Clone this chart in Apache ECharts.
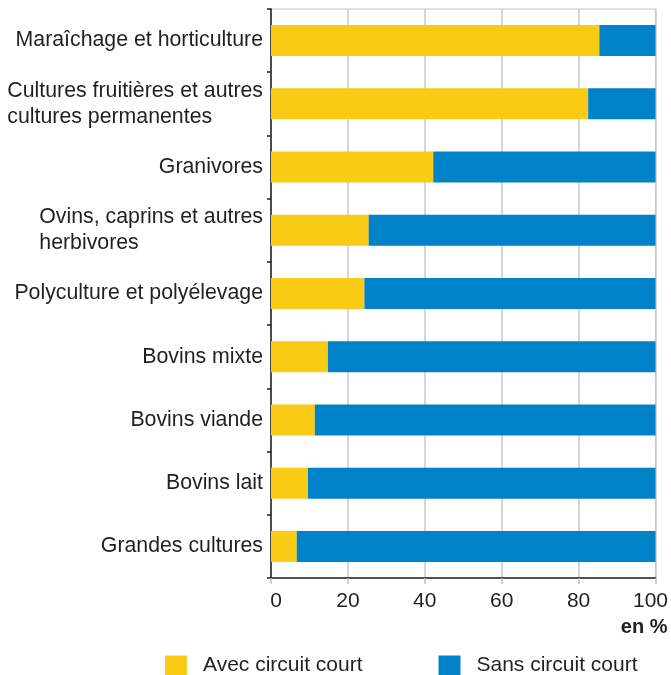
<!DOCTYPE html>
<html>
<head>
<meta charset="utf-8">
<script src="https://cdn.jsdelivr.net/npm/echarts@6/dist/echarts.min.js"></script>
<style>html,body{margin:0;padding:0;background:#fff}#c{width:671px;height:675px}</style>
</head>
<body>
<div id="c"></div>
<script>
const categories = [
  "Maraîchage et horticulture",
  "Cultures fruitières et autres\ncultures permanentes",
  "Granivores",
  "Ovins, caprins et autres\nherbivores",
  "Polyculture et polyélevage",
  "Bovins mixte",
  "Bovins viande",
  "Bovins lait",
  "Grandes cultures"
];
const avecCircuitCourt = [85.4, 82.5, 42.2, 25.4, 24.3, 14.8, 11.4, 9.6, 6.7];
const sansCircuitCourt = avecCircuitCourt.map(v => +(100 - v).toFixed(1));
const seriesNames = ["Avec circuit court", "Sans circuit court"];
const xTicks = [0, 20, 40, 60, 80, 100];

const FONT = '"Liberation Sans", Arial, Helvetica, sans-serif';
const FS = 21.3;
const chart = echarts.init(document.getElementById('c'), null, {renderer: 'canvas'});
chart.setOption({
  animation: false,
  textStyle: {fontFamily: FONT},
  grid: {left: 271, right: 14, top: 9, bottom: 97, show: true, borderColor: '#c8c8c8', borderWidth: 1.2},
  legend: {
    data: seriesNames,
    left: 165, top: 655, padding: 0,
    itemWidth: 22, itemHeight: 20, itemGap: 76,
    icon: 'rect',
    textStyle: {fontSize: 21, color: '#231f20', fontFamily: FONT, padding: [0, 0, 0, 11]}
  },
  xAxis: {
    type: 'value', min: 0, max: 100, interval: 20,
    axisLine: {show: true, lineStyle: {color: '#231f20', width: 1.5}},
    axisTick: {show: true, length: 6, lineStyle: {color: '#c0c0c0', width: 1.5}},
    splitLine: {show: true, lineStyle: {color: '#c8c8c8', width: 1.5}},
    axisLabel: {
      fontSize: 21, color: '#231f20', margin: 13, fontFamily: FONT,
      formatter: v => {
        const i = xTicks.indexOf(v);
        if (i === 0) return '{first|' + v + '}';
        if (i === xTicks.length - 1) return '{last|' + v + '}';
        return String(v);
      },
      rich: {
        first: {fontSize: 21, color: '#231f20', fontFamily: FONT, padding: [0, 0, 0, 10]},
        last: {fontSize: 21, color: '#231f20', fontFamily: FONT, padding: [0, 10, 0, 0]}
      }
    },
    name: 'en %', nameLocation: 'end', nameGap: 12,
    nameTextStyle: {fontSize: 20, fontWeight: 'bold', color: '#231f20', fontFamily: FONT,
      align: 'right', verticalAlign: 'top', padding: [39, 0, 0, 0]}
  },
  yAxis: {
    type: 'category', data: categories, inverse: true,
    axisLine: {show: true, lineStyle: {color: '#231f20', width: 1.5}},
    axisTick: {show: true, length: 4, lineStyle: {color: '#231f20', width: 1.5}},
    splitLine: {show: false},
    axisLabel: {
      margin: 8, color: '#231f20', fontSize: FS, fontFamily: FONT,
      formatter: v => v.split('\n').map(s => '{l|' + s + '}').join('\n'),
      rich: {l: {align: 'left', fontSize: FS, lineHeight: 26, color: '#231f20', fontFamily: FONT}}
    }
  },
  series: [
    {name: seriesNames[0], type: 'bar', stack: 't', data: avecCircuitCourt, barWidth: 31,
      itemStyle: {color: '#f9cb14'}},
    {name: seriesNames[1], type: 'bar', stack: 't', data: sansCircuitCourt, barWidth: 31,
      itemStyle: {color: '#0082c8'}}
  ]
});
</script>
</body>
</html>
